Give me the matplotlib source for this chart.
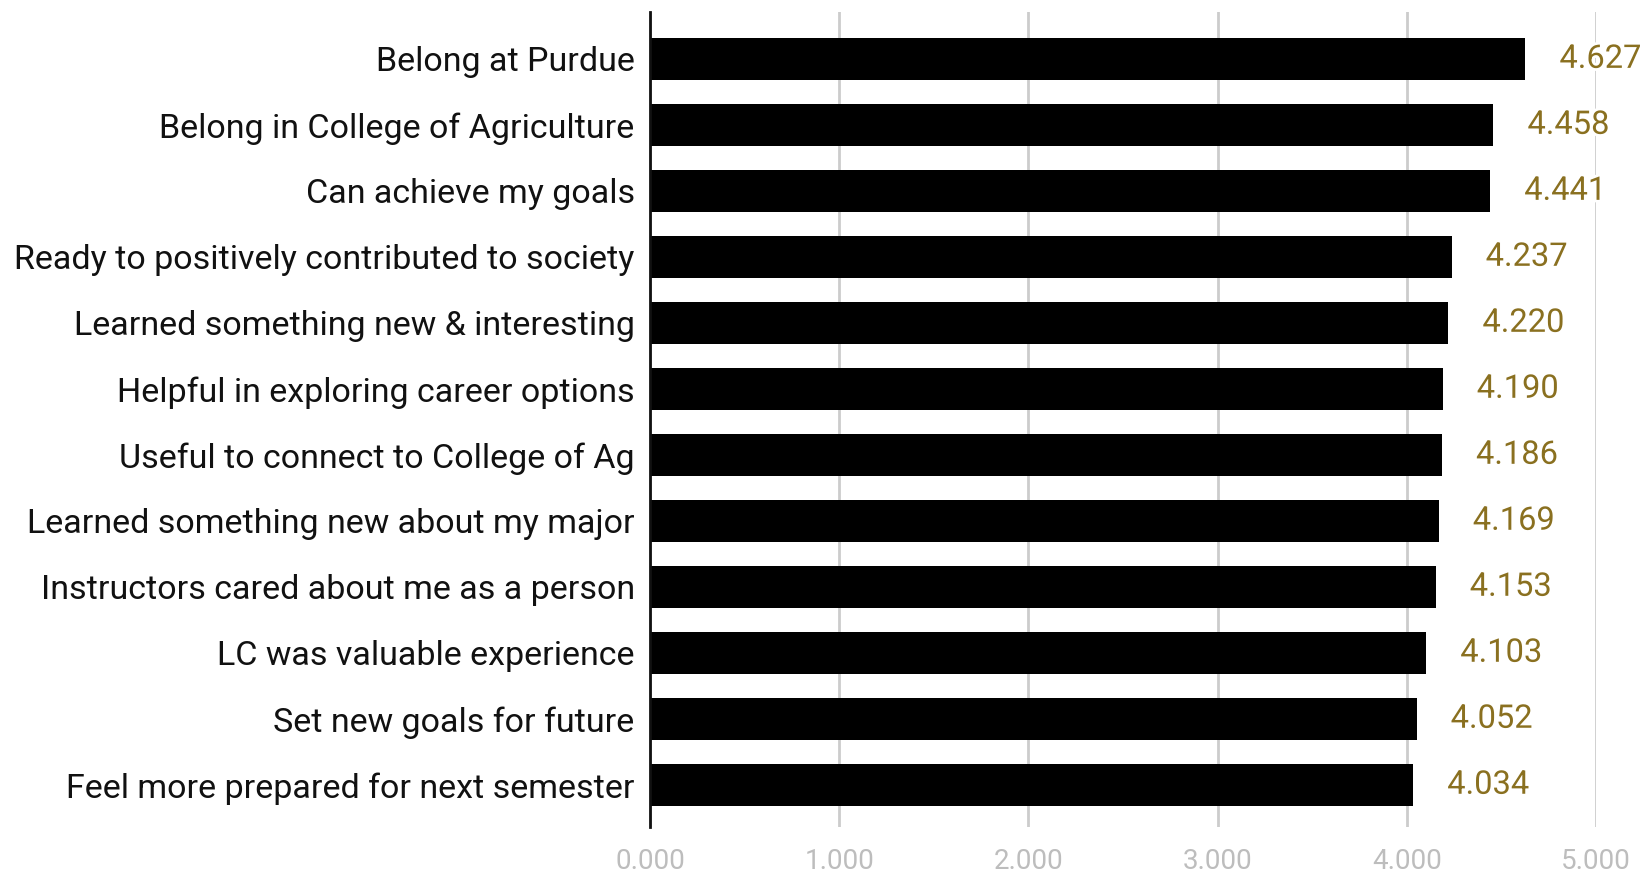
import matplotlib
matplotlib.use("Agg")
import matplotlib.pyplot as plt
import matplotlib.patheffects as pe

categories = [
    "Belong at Purdue",
    "Belong in College of Agriculture",
    "Can achieve my goals",
    "Ready to positively contributed to society",
    "Learned something new & interesting",
    "Helpful in exploring career options",
    "Useful to connect to College of Ag",
    "Learned something new about my major",
    "Instructors cared about me as a person",
    "LC was valuable experience",
    "Set new goals for future",
    "Feel more prepared for next semester",
]
values = [4.627, 4.458, 4.441, 4.237, 4.220, 4.190, 4.186, 4.169, 4.153, 4.103, 4.052, 4.034]
xticks = [0, 1, 2, 3, 4, 5]

plt.rcParams['font.family'] = ['Roboto', 'DejaVu Sans']

fig = plt.figure(figsize=(16.45, 8.73), dpi=100)
ax = fig.add_axes([650/1645, 1-827/873, (1596-650)/1645, (827-12)/873])

y = list(range(len(categories)))
ax.barh(y, values, height=0.64, color='black', zorder=3)
ax.set_ylim(len(categories)-1+0.64, -0.71)
ax.set_xlim(0, 5)

ax.set_yticks(y)
ax.set_yticklabels(categories, fontsize=24.5, color='#111111')
ax.set_xticks(xticks)
ax.set_xticklabels([f"{v:.3f}" for v in xticks], fontsize=20, color='#bdbdbd')
ax.tick_params(axis='both', length=0)
ax.tick_params(axis='x', pad=15)
ax.tick_params(axis='y', pad=11)

ax.grid(axis='x', color='#cccccc', linewidth=2, zorder=0)
for s in ['top', 'right', 'bottom']:
    ax.spines[s].set_visible(False)
ax.spines['left'].set_linewidth(2)
ax.spines['left'].set_color('#111111')
ax.spines['left'].set_zorder(4)

for yi, v in zip(y, values):
    t = ax.annotate(f"{v:.3f}", xy=(v, yi), xytext=(34, 0), textcoords='offset pixels',
                    va='center', ha='left', fontsize=23.5, color='#8a7020', zorder=5)
    t.set_path_effects([pe.withStroke(linewidth=4, foreground='white')])

fig.savefig('out.png', dpi=100)
